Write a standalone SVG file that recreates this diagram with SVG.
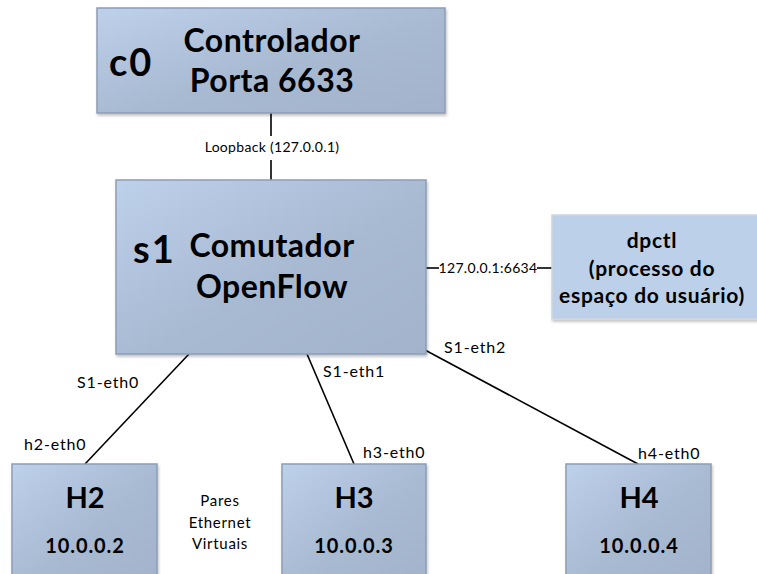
<svg xmlns="http://www.w3.org/2000/svg" width="757" height="574" viewBox="0 0 757 574">
  <defs>
    <linearGradient id="boxFill" x1="0" y1="0" x2="1" y2="1">
      <stop offset="0" stop-color="#bed1ea"/>
      <stop offset="0.55" stop-color="#a8b9d2"/>
      <stop offset="1" stop-color="#a2b3cb"/>
    </linearGradient>
    <filter id="shadow" x="-5%" y="-5%" width="110%" height="110%">
      <feGaussianBlur in="SourceAlpha" stdDeviation="1.5"/>
      <feOffset dx="1" dy="1.5"/>
      <feComponentTransfer><feFuncA type="linear" slope="0.25"/></feComponentTransfer>
      <feMerge><feMergeNode/><feMergeNode in="SourceGraphic"/></feMerge>
    </filter>
  </defs>
  <style>
    .box { fill: url(#boxFill); stroke: #8d9db5; stroke-width: 1.5; filter: url(#shadow); }
    .flat { fill: #bdd0e9; stroke: #cfd6df; stroke-width: 1.5; filter: url(#shadow); }
    .link { stroke: #000; stroke-width: 1.6; fill: none; }
    .t { font-family: Lato, "Open Sans", "Liberation Sans", sans-serif; fill: #000; }
    .b { font-weight: bold; }
    .id { font-size: 38px; letter-spacing: 2px; }
    .big { font-size: 32px; letter-spacing: 0.5px; }
    .host { font-size: 29px; }
    .ip { font-size: 20px; letter-spacing: 0.9px; }
    .mid { font-size: 21px; letter-spacing: 0.7px; }
    .lbl { font-size: 16px; letter-spacing: 0.85px; }
    .sm { font-size: 14px; letter-spacing: 0.3px; }
    .note { font-size: 15px; letter-spacing: 0.7px; }
  </style>
  <rect width="757" height="574" fill="#fff"/>

  <!-- connectors -->
  <g id="links">
    <line class="link" x1="271" y1="113" x2="271" y2="136"/>
    <line class="link" x1="271" y1="160" x2="271" y2="180"/>
    <line class="link" x1="426" y1="268" x2="439" y2="268"/>
    <line class="link" x1="537" y1="268" x2="552" y2="268"/>
    <line class="link" x1="189" y1="354" x2="85" y2="464"/>
    <line class="link" x1="307" y1="354" x2="354" y2="464"/>
    <line class="link" x1="425" y1="350" x2="638" y2="464"/>
    <text class="t sm" x="272" y="152" text-anchor="middle">Loopback (127.0.0.1)</text>
    <text class="t sm" x="488" y="273" text-anchor="middle">127.0.0.1:6634</text>
    <text class="t lbl" x="77" y="388">S1-eth0</text>
    <text class="t lbl" x="323" y="377">S1-eth1</text>
    <text class="t lbl" x="444" y="353">S1-eth2</text>
    <text class="t lbl" x="24" y="450">h2-eth0</text>
    <text class="t lbl" x="363" y="458">h3-eth0</text>
    <text class="t lbl" x="638" y="459">h4-eth0</text>
    <text class="t note" x="220" y="506" text-anchor="middle">Pares</text>
    <text class="t note" x="220" y="528" text-anchor="middle">Ethernet</text>
    <text class="t note" x="220" y="549" text-anchor="middle">Virtuais</text>
  </g>

  <g id="c0">
    <rect class="box" x="97" y="8" width="348" height="105"/>
    <text class="t b id" x="109" y="76">c0</text>
    <text class="t b big" x="272" y="52" text-anchor="middle">Controlador</text>
    <text class="t b big" x="272" y="92" text-anchor="middle">Porta 6633</text>
  </g>

  <g id="s1">
    <rect class="box" x="116" y="180" width="310" height="174"/>
    <text class="t b id" x="133" y="263">s1</text>
    <text class="t b big" x="272" y="257" text-anchor="middle">Comutador</text>
    <text class="t b big" x="272" y="298" text-anchor="middle">OpenFlow</text>
  </g>

  <g id="dpctl">
    <rect class="flat" x="552" y="215" width="210" height="104"/>
    <text class="t b mid" x="652" y="248" text-anchor="middle">dpctl</text>
    <text class="t b mid" x="652" y="276" text-anchor="middle">(processo do</text>
    <text class="t b mid" x="652" y="303" text-anchor="middle">espaço do usuário)</text>
  </g>

  <g id="h2">
    <rect class="box" x="12" y="464" width="145" height="120"/>
    <text class="t b host" x="85" y="508" text-anchor="middle">H2</text>
    <text class="t b ip" x="85" y="553" text-anchor="middle">10.0.0.2</text>
  </g>

  <g id="h3">
    <rect class="box" x="282" y="464" width="144" height="120"/>
    <text class="t b host" x="354" y="508" text-anchor="middle">H3</text>
    <text class="t b ip" x="354" y="553" text-anchor="middle">10.0.0.3</text>
  </g>

  <g id="h4">
    <rect class="box" x="566" y="464" width="145" height="120"/>
    <text class="t b host" x="639" y="508" text-anchor="middle">H4</text>
    <text class="t b ip" x="639" y="553" text-anchor="middle">10.0.0.4</text>
  </g>
</svg>
